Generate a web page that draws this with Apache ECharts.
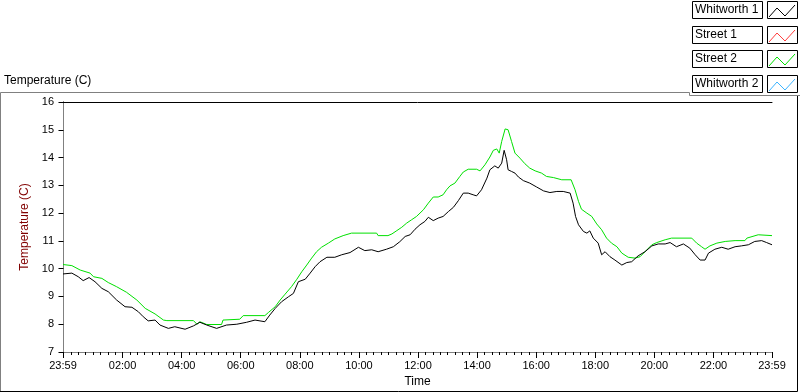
<!DOCTYPE html>
<html>
<head>
<meta charset="utf-8">
<title>Temperature (C)</title>
<script src="https://cdn.jsdelivr.net/npm/echarts@6/dist/echarts.min.js"></script>
<style>
html, body { margin: 0; padding: 0; background: #fff; }
#main { width: 800px; height: 392px; }
</style>
</head>
<body>
<div id="main"></div>
<script type="text/javascript">
// time = minutes after 00:00 (-1 is 23:59 of the day before)
var seriesNames = ['Whitworth 1', 'Street 1', 'Street 2', 'Whitworth 2'];
var seriesColors = ['#000000', '#ff3c3c', '#00e000', '#3cb4ff'];

var tickMinutes = [-1, 120, 240, 360, 480, 600, 720, 840, 960, 1080, 1200, 1320, 1439];
var tickLabels = ['23:59', '02:00', '04:00', '06:00', '08:00', '10:00', '12:00', '14:00', '16:00', '18:00', '20:00', '22:00', '23:59'];

var whitworth1Time = [-1,17,30,40,52,64,78,91,108,125,139,152,162,172,186,196,213,226,247,264,277,291,311,331,352,372,389,409,419,430,443,457,467,477,491,501,511,521,535,551,565,582,599,612,626,639,656,670,683,694,704,714,724,734,741,751,761,771,782,792,802,812,822,832,839,849,860,866,876,883,890,895,900,903,910,917,924,934,947,961,975,988,1002,1015,1029,1035,1040,1046,1056,1063,1069,1076,1086,1093,1100,1110,1120,1134,1144,1154,1167,1181,1195,1208,1222,1232,1245,1259,1272,1283,1293,1303,1310,1323,1337,1350,1364,1377,1391,1404,1418,1428,1439];
var whitworth1Temp = [9.81,9.84,9.71,9.57,9.68,9.53,9.29,9.17,8.87,8.63,8.61,8.45,8.27,8.12,8.15,7.97,7.85,7.91,7.82,7.94,8.07,7.97,7.85,7.97,8.00,8.07,8.15,8.09,8.33,8.57,8.81,8.99,9.11,9.53,9.62,9.84,10.07,10.25,10.41,10.41,10.50,10.58,10.77,10.65,10.68,10.61,10.70,10.79,10.97,11.16,11.22,11.42,11.58,11.70,11.85,11.73,11.82,11.88,12.06,12.21,12.45,12.72,12.72,12.66,12.62,12.84,13.26,13.56,13.70,13.62,13.80,14.26,13.92,13.56,13.50,13.44,13.30,13.17,13.08,12.94,12.80,12.74,12.78,12.78,12.72,12.36,11.88,11.58,11.34,11.28,11.36,11.10,10.92,10.50,10.61,10.43,10.31,10.13,10.22,10.25,10.46,10.61,10.82,10.89,10.89,10.94,10.79,10.89,10.74,10.50,10.31,10.31,10.56,10.70,10.77,10.70,10.79,10.82,10.86,10.98,11.01,10.94,10.86];

var street1Time = [];
var street1Temp = [];

var street2Time = [-1,17,34,54,61,78,91,108,128,149,166,186,203,210,264,271,277,291,321,324,358,365,409,416,430,440,450,463,474,484,494,504,514,524,538,551,568,585,636,639,659,667,677,687,697,707,717,731,741,751,761,771,778,785,795,805,812,822,839,846,856,866,873,880,885,890,897,903,910,917,927,937,947,958,971,981,995,1012,1031,1039,1046,1052,1063,1073,1083,1093,1103,1113,1124,1134,1147,1161,1171,1181,1195,1205,1222,1235,1276,1286,1296,1303,1313,1327,1344,1364,1384,1388,1411,1439];
var street2Temp = [10.15,10.11,9.95,9.84,9.71,9.65,9.50,9.35,9.15,8.87,8.57,8.37,8.15,8.13,8.13,8.00,8.09,7.99,7.99,8.15,8.18,8.31,8.31,8.42,8.63,8.87,9.08,9.35,9.62,9.89,10.13,10.38,10.61,10.77,10.92,11.07,11.19,11.28,11.28,11.19,11.19,11.25,11.37,11.49,11.64,11.76,11.88,12.12,12.36,12.58,12.58,12.66,12.84,12.98,13.08,13.32,13.48,13.58,13.58,13.52,13.74,14.02,14.26,14.31,14.16,14.58,15.03,15.00,14.58,14.16,13.98,13.78,13.62,13.52,13.44,13.32,13.28,13.20,13.20,12.84,12.42,12.14,12.00,11.88,11.61,11.40,11.10,10.92,10.79,10.56,10.41,10.38,10.43,10.61,10.86,10.94,11.04,11.10,11.10,10.92,10.79,10.70,10.82,10.92,10.98,11.01,11.01,11.10,11.22,11.19];

var whitworth2Time = [];
var whitworth2Temp = [];

var FONT = 'Liberation Sans';

function pairs(ts, vs) {
    return ts.map(function (t, i) { return [t, vs[i]]; });
}

var minorTicks = [];
for (var m = 0; m < 1440; m += 15) minorTicks.push(m);

var seriesData = [
    pairs(whitworth1Time, whitworth1Temp),
    pairs(street1Time, street1Temp),
    pairs(street2Time, street2Temp),
    pairs(whitworth2Time, whitworth2Temp)
];

var myChart = echarts.init(document.getElementById('main'));

// frame lines round the graph
var frame = [
    { type: 'polyline', silent: true, shape: { points: [[0.5, 391], [0.5, 92.5], [689.5, 92.5], [689.5, 95.5], [800, 95.5]] },
      style: { stroke: '#808080', fill: null, lineWidth: 1 } },
    { type: 'polyline', silent: true, shape: { points: [[0, 391.5], [797.5, 391.5], [797.5, 96]] },
      style: { stroke: '#000', fill: null, lineWidth: 1 } }
];
// plot legend: name box + swatch box with a zigzag in the series colour
var rowTop = [1, 26, 50, 75];
seriesNames.forEach(function (name, k) {
    var y = rowTop[k];
    frame.push({ type: 'rect', silent: true, shape: { x: 692.5, y: y + 0.5, width: 70, height: 17 },
                 style: { stroke: '#000', fill: '#fff', lineWidth: 1 } });
    frame.push({ type: 'text', silent: true, x: 695, y: y + 9,
                 style: { text: name, fill: '#000', font: '12px "' + FONT + '"', verticalAlign: 'middle', align: 'left' } });
    frame.push({ type: 'rect', silent: true, shape: { x: 767.5, y: y + 0.5, width: 30, height: 17 },
                 style: { stroke: '#000', fill: '#fff', lineWidth: 1 } });
    frame.push({ type: 'polyline', silent: true,
                 shape: { points: [[769, y + 16], [777, y + 7], [785, y + 15], [795, y + 4]] },
                 style: { stroke: seriesColors[k], fill: null, lineWidth: 1 } });
});

var option = {
    animation: false,
    backgroundColor: '#fff',
    title: {
        text: 'Temperature (C)', left: 4, top: 75, padding: 0,
        textStyle: { fontFamily: FONT, fontSize: 12, fontWeight: 'normal', color: '#000' }
    },
    grid: { left: 63, right: 28, top: 102, bottom: 40, containLabel: false, outerBoundsMode: 'none' },
    xAxis: [{
        type: 'value', min: -1, max: 1439,
        name: 'Time', nameLocation: 'middle', nameGap: 24,
        nameTextStyle: { fontFamily: FONT, fontSize: 12, color: '#000' },
        axisLine: { show: true, lineStyle: { color: '#808080', width: 1 } },
        axisTick: { show: true, length: 6, customValues: tickMinutes, lineStyle: { color: '#000' } },
        axisLabel: {
            customValues: tickMinutes, margin: 8,
            fontFamily: FONT, fontSize: 11, color: '#000',
            formatter: function (v) { return tickLabels[tickMinutes.indexOf(v)]; }
        },
        splitLine: { show: false }
    }, {
        type: 'value', min: -1, max: 1439, position: 'bottom',
        axisLine: { show: false },
        axisTick: { show: true, length: 3, customValues: minorTicks, lineStyle: { color: '#000' } },
        axisLabel: { show: false },
        splitLine: { show: false }
    }, {
        type: 'value', min: -1, max: 1439, position: 'top',
        axisLine: { show: true, lineStyle: { color: '#000', width: 1 } },
        axisTick: { show: false }, axisLabel: { show: false }, splitLine: { show: false }
    }],
    yAxis: [{
        type: 'value', min: 7, max: 16, interval: 1,
        name: 'Temperature (C)', nameLocation: 'middle', nameGap: 24,
        nameTextStyle: { fontFamily: FONT, fontSize: 12, color: '#800000' },
        axisLine: { show: true, lineStyle: { color: '#000', width: 1 } },
        axisTick: { show: true, length: 5, lineStyle: { color: '#000' } },
        axisLabel: { fontFamily: FONT, fontSize: 11, color: '#000', margin: 9 },
        splitLine: { show: false }
    }, {
        type: 'value', min: 7, max: 16, position: 'right',
        axisLine: { show: true, lineStyle: { color: '#808080', width: 1 } },
        axisTick: { show: false }, axisLabel: { show: false }, splitLine: { show: false }
    }],
    graphic: frame,
    series: seriesNames.map(function (name, i) {
        return {
            name: name, type: 'line', xAxisIndex: 0, yAxisIndex: 0,
            data: seriesData[i], showSymbol: false, symbol: 'none',
            color: seriesColors[i],
            lineStyle: { color: seriesColors[i], width: 1 },
            z: i === 0 ? 3 : 2
        };
    })
};

myChart.setOption(option);
</script>
</body>
</html>
